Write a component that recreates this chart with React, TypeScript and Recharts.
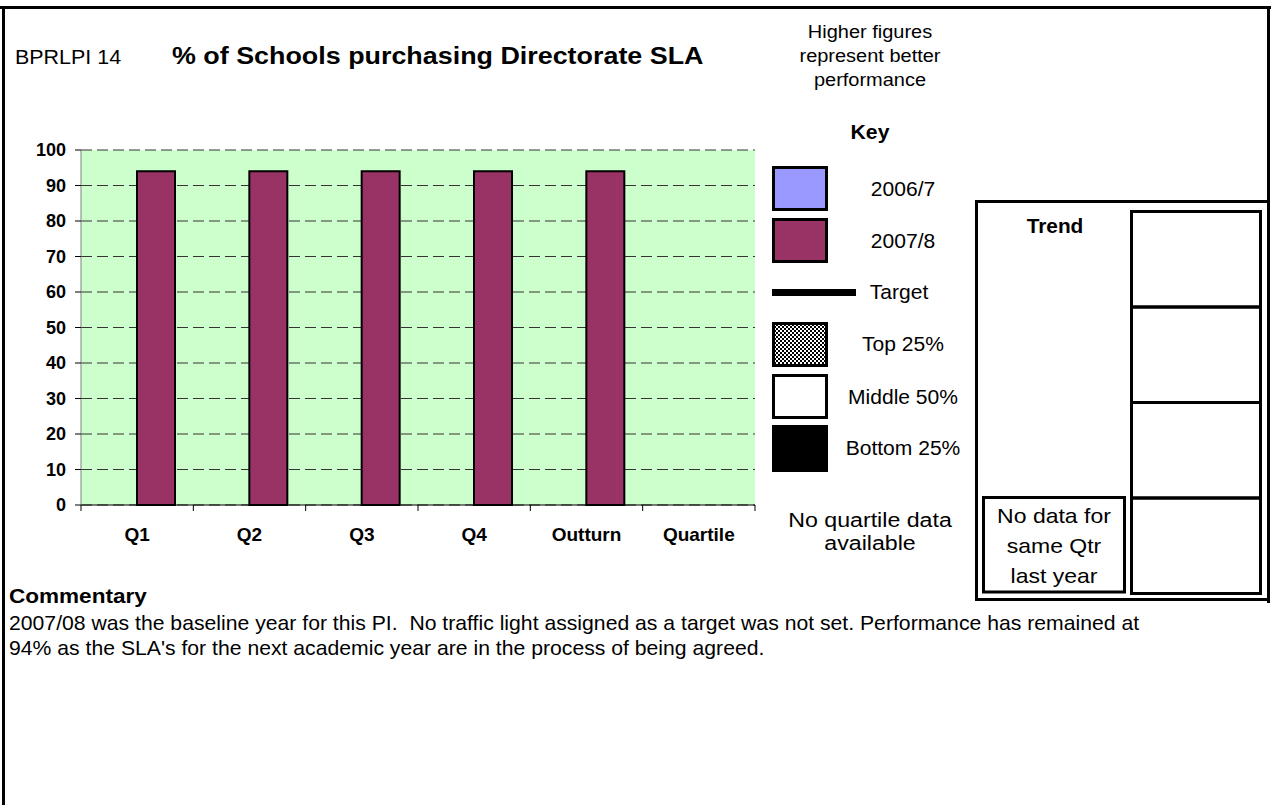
import React from 'react';
import { BarChart, Bar, XAxis, YAxis, CartesianGrid } from 'recharts';

const categories = ['Q1', 'Q2', 'Q3', 'Q4', 'Outturn', 'Quartile'];
const series2006: (number | null)[] = [null, null, null, null, null, null];
const series2007: (number | null)[] = [94, 94, 94, 94, 94, null];
const yTicks = [0, 10, 20, 30, 40, 50, 60, 70, 80, 90, 100];
const headerLines = ['Higher figures', 'represent better', 'performance'];
const keyLabels = ['2006/7', '2007/8', 'Target', 'Top 25%', 'Middle 50%', 'Bottom 25%'];
const quartileNote = ['No quartile data', 'available'];
const trendNote = ['No data for', 'same Qtr', 'last year'];
const commentaryLines = [
  "2007/08 was the baseline year for this PI.  No traffic light assigned as a target was not set. Performance has remained at",
  "94% as the SLA's for the next academic year are in the process of being agreed.",
];

const data = categories.map((c, i) => ({ cat: c, y2006: series2006[i], y2007: series2007[i] }));

const FONT = 'Arial, "Liberation Sans", Helvetica, sans-serif';
const PLOT_LEFT = 81;
const PLOT_RIGHT = 755;
const BAND = (PLOT_RIGHT - PLOT_LEFT) / categories.length;

const XTick = (props: any) => {
  const { x, y, payload, index } = props;
  return (
    <g>
      <line x1={x - BAND / 2} y1={y} x2={x - BAND / 2} y2={y + 6} stroke="#000" strokeWidth={1} />
      {index === categories.length - 1 && (
        <line x1={x + BAND / 2} y1={y} x2={x + BAND / 2} y2={y + 6} stroke="#000" strokeWidth={1} />
      )}
      <text x={x} y={y + 36} textAnchor="middle" fontFamily={FONT} fontWeight="bold" fontSize={19} fill="#000">
        {payload.value}
      </text>
    </g>
  );
};

type TP = { x: number; y: number; size: number; sx?: number; bold?: boolean; anchor?: 'start' | 'middle' | 'end'; children: React.ReactNode };
const T = ({ x, y, size, sx = 1, bold = false, anchor = 'start', children }: TP) => (
  <text
    transform={`translate(${x} ${y}) scale(${sx} 1)`}
    fontSize={size}
    fontWeight={bold ? 'bold' : 'normal'}
    textAnchor={anchor}
    fontFamily={FONT}
    fill="#000"
    style={{ whiteSpace: 'pre' }}
  >
    {children}
  </text>
);

export default function App() {
  return (
    <div style={{ position: 'absolute', left: 0, top: 0, width: 1271, height: 805, background: '#fff', overflow: 'hidden' }}>
      {/* chart */}
      <div style={{ position: 'absolute', left: 0, top: 0 }}>
        <BarChart width={760} height={560} data={data} margin={{ top: 150, right: 5, left: 0, bottom: 0 }} barGap={0} barSize={38}>
          <CartesianGrid vertical={false} stroke="#333" strokeDasharray="11 5" fill="#CCFFCC" fillOpacity={1} />
          <XAxis
            dataKey="cat"
            height={55}
            axisLine={{ stroke: '#000', strokeWidth: 1 }}
            tickLine={false}
            tickSize={0}
            tickMargin={0}
            tick={<XTick />}
            interval={0}
          />
          <YAxis
            width={81}
            domain={[0, 100]}
            ticks={yTicks}
            interval={0}
            axisLine={{ stroke: '#808080', strokeWidth: 1 }}
            tickLine={{ stroke: '#000', strokeWidth: 1 }}
            tickSize={6}
            tickMargin={9}
            tick={{ fill: '#000', fontSize: 18, fontWeight: 'bold', fontFamily: FONT }}
          />
          <Bar dataKey="y2006" name="2006/7" fill="#9999FF" stroke="#000" strokeWidth={2} isAnimationActive={false} />
          <Bar dataKey="y2007" name="2007/8" fill="#993366" stroke="#000" strokeWidth={2} isAnimationActive={false} />
        </BarChart>
      </div>

      {/* page decorations, key, trend box, commentary */}
      <svg width={1271} height={805} style={{ position: 'absolute', left: 0, top: 0, pointerEvents: 'none' }}>
        <defs>
          <pattern id="chk" width={4} height={4} patternUnits="userSpaceOnUse">
            <rect width={4} height={4} fill="#fff" />
            <rect width={2} height={2} fill="#000" />
            <rect x={2} y={2} width={2} height={2} fill="#000" />
          </pattern>
        </defs>

        {/* page frame */}
        <rect x={0} y={6} width={1271} height={3} fill="#000" />
        <rect x={2} y={6} width={3} height={799} fill="#000" />
        <rect x={1267} y={6} width={3} height={597} fill="#000" />

        {/* header */}
        <T x={15} y={64} size={19.5} sx={1.1}>BPRLPI 14</T>
        <T x={172} y={64} size={24} sx={1.12} bold>% of Schools purchasing Directorate SLA</T>
        {headerLines.map((t, i) => (
          <T key={t} x={870} y={38 + i * 24} size={18.5} sx={1.08} anchor="middle">{t}</T>
        ))}

        {/* key */}
        <T x={870} y={139} size={20} sx={1.06} bold anchor="middle">Key</T>
        <rect x={773.5} y={167.5} width={53} height={42} fill="#9999FF" stroke="#000" strokeWidth={3} />
        <rect x={773.5} y={219.5} width={53} height={42} fill="#993366" stroke="#000" strokeWidth={3} />
        <rect x={772} y={289} width={84} height={7} fill="#000" />
        <rect x={773.5} y={323.5} width={53} height={42} fill="url(#chk)" stroke="#000" strokeWidth={3} />
        <rect x={773.5} y={375.5} width={53} height={42} fill="#fff" stroke="#000" strokeWidth={3} />
        <rect x={772} y={425} width={56} height={47} fill="#000" />
        {keyLabels.map((t, i) => (
          <T key={t} x={i === 2 ? 899 : 903} y={[196, 248, 299, 351, 404, 455][i]} size={19.5} sx={1.08} anchor="middle">{t}</T>
        ))}
        {quartileNote.map((t, i) => (
          <T key={t} x={870} y={527 + i * 23} size={20} sx={1.16} anchor="middle">{t}</T>
        ))}

        {/* trend box */}
        <rect x={976.5} y={201.5} width={292} height={398} fill="none" stroke="#000" strokeWidth={3} />
        <T x={1055} y={233} size={20} sx={1.04} bold anchor="middle">Trend</T>
        {[0, 1, 2, 3].map((i) => (
          <rect key={i} x={1131.5} y={211.5 + i * 95.5} width={129} height={95.5} fill="none" stroke="#000" strokeWidth={3} />
        ))}
        <rect x={983.5} y={497.5} width={141} height={94.5} fill="none" stroke="#000" strokeWidth={3} />
        {trendNote.map((t, i) => (
          <T key={t} x={1054} y={523 + i * 30} size={20} sx={1.15} anchor="middle">{t}</T>
        ))}

        {/* commentary */}
        <T x={9} y={603} size={20.5} sx={1.1} bold>Commentary</T>
        {commentaryLines.map((t, i) => (
          <T key={i} x={9} y={630 + i * 25} size={20} sx={1.06}>{t}</T>
        ))}
      </svg>
    </div>
  );
}
